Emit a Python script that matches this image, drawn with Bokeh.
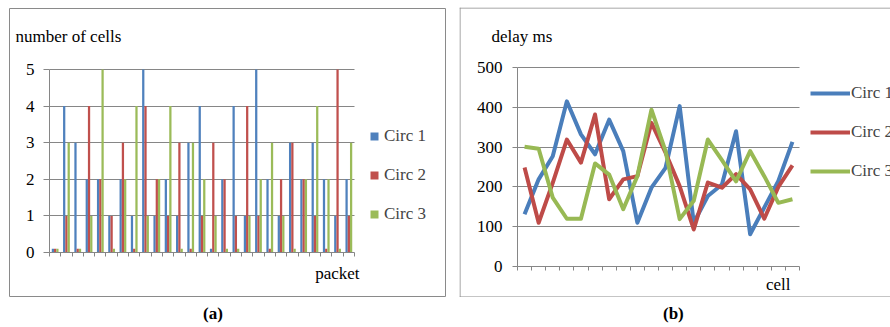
from bokeh.plotting import figure
from bokeh.models import (Range1d, FixedTicker, Legend, LegendItem, Div, Label,
                          ColumnDataSource, Spacer, Span)
from bokeh.layouts import row, column
from bokeh.transform import dodge
from bokeh.embed import file_html
from bokeh.resources import INLINE

# ---------------- data ----------------
packets = list(range(1, 28))
circ1_cells = [0.1, 4, 3, 2, 2, 1, 2, 1, 5, 1, 2, 1, 3, 4, 0.1, 2, 4, 1, 5, 2, 1, 3, 2, 3, 2, 1, 2]
circ2_cells = [0.1, 1, 0.1, 4, 2, 1, 3, 0.1, 4, 2, 1, 3, 0.1, 1, 3, 2, 1, 4, 1, 0.1, 2, 3, 2, 1, 0.1, 5, 1]
circ3_cells = [0.1, 3, 0.1, 1, 5, 0.1, 2, 4, 1, 2, 4, 0.1, 3, 2, 1, 0.1, 0.1, 1, 2, 3, 1, 0.1, 2, 4, 2, 0.1, 3]

cells = list(range(1, 21))
circ1_delay = [131, 219, 277, 415, 332, 282, 369, 290, 110, 198, 248, 403, 110, 177, 206, 340, 81, 148, 215, 313]
circ2_delay = [249, 110, 210, 319, 261, 382, 169, 219, 227, 361, 286, 202, 93, 211, 198, 232, 194, 120, 200, 254]
circ3_delay = [301, 296, 173, 120, 120, 259, 231, 144, 227, 394, 290, 119, 165, 319, 267, 214, 290, 227, 160, 169]

series_names = ["Circ 1", "Circ 2", "Circ 3"]
bar_colors = ["#4F81BD", "#C0504D", "#9BBB59"]
line_colors = ["#4A7EBB", "#BE4B48", "#98B954"]
cells_ticks = [0, 1, 2, 3, 4, 5]
delay_ticks = [0, 100, 200, 300, 400, 500]

FONT = "'Liberation Serif', serif"
GRAY = "#868686"
BOXC = "#8a8a8a"


class Mapper:
    """Pixel geometry of one chart (page pixels) -> data ranges."""
    def __init__(self, fx0, fx1, fy0, fy1, xa, pxa, xb, pxb, ya, pya, yb, pyb):
        self.sx = (pxb - pxa) / (xb - xa)
        self.sy = (pyb - pya) / (yb - ya)
        self.xa, self.pxa, self.ya, self.pya = xa, pxa, ya, pya
        self.fx0, self.fy1 = fx0, fy1
        self.x_range = Range1d(self.x(fx0), self.x(fx1))
        self.y_range = Range1d(self.y(fy1), self.y(fy0))

    def x(self, px):
        return self.xa + (px - self.pxa) / self.sx

    def y(self, py):
        return self.ya + (py - self.pya) / self.sy

    def loc(self, px, py):
        return (px - self.fx0, self.fy1 - py)


def make_fig(m, width, height, mb):
    p = figure(width=width, height=height, output_backend="svg", toolbar_location=None,
               title=None, x_range=m.x_range, y_range=m.y_range,
               min_border_left=mb, min_border_right=mb, min_border_top=mb,
               min_border_bottom=mb)
    p.background_fill_color = "white"
    p.border_fill_color = "white"
    return p


def style_axes(p, yticks, n_cat, tick_out_y, standoff_y):
    p.yaxis.fixed_location = 0.5
    p.xaxis.fixed_location = yticks[0]
    p.yaxis.bounds = (yticks[0], yticks[-1])
    p.xaxis.bounds = (0.5, n_cat + 0.5)
    p.yaxis.ticker = FixedTicker(ticks=yticks)
    p.yaxis.major_tick_out = tick_out_y
    p.yaxis.major_tick_in = 0
    p.yaxis.minor_tick_line_color = None
    p.yaxis.major_label_standoff = standoff_y
    p.yaxis.major_label_text_font = FONT
    p.yaxis.major_label_text_font_size = "17px"
    p.yaxis.major_label_text_color = "black"
    p.xaxis.ticker = FixedTicker(ticks=[b + 0.5 for b in range(0, n_cat + 1)])
    p.xaxis.major_tick_out = 4
    p.xaxis.major_tick_in = 0
    p.xaxis.minor_tick_line_color = None
    p.xaxis.major_label_text_color = None
    p.xaxis.major_label_text_font_size = "1px"
    for ax in (p.xaxis, p.yaxis):
        ax.axis_line_color = GRAY
        ax.major_tick_line_color = GRAY
    p.xgrid.grid_line_color = None
    p.ygrid.ticker = FixedTicker(ticks=yticks[1:])
    p.ygrid.grid_line_color = GRAY
    try:
        p.ygrid.cross_bounds = (0.5, n_cat + 0.5)
    except AttributeError:
        p.ygrid.grid_line_color = None
        p.segment(x0=0.5, x1=n_cat + 0.5, y0=yticks[1:], y1=yticks[1:],
                  line_color=GRAY, line_width=1)


def label(p, x, y, text, align):
    p.add_layout(Label(x=x, y=y, text=text, text_font=FONT, text_font_size="17px",
                       text_baseline="middle", text_align=align, text_color="black"))


# ---------------- chart (a) ----------------
# figure occupies page x 8..446, y 7..297 ; frame inset by 1px, outline = chart box
ma = Mapper(9, 445, 8, 296, 0.5, 49, 27.5, 354, 0, 252, 5, 69)
pa = make_fig(ma, 438, 290, 1)
pa.outline_line_color = BOXC
pa.outline_line_width = 1
style_axes(pa, cells_ticks, len(packets), 6, 9)

src_a = ColumnDataSource(dict(x=packets, c1=circ1_cells, c2=circ2_cells, c3=circ3_cells))
keys = []
for key, off, col in zip(["c1", "c2", "c3"], [-0.2, 0.0, 0.2], bar_colors):
    pa.vbar(x=dodge("x", off), top=key, width=0.2, source=src_a,
            fill_color=col, line_color=None)
    # square legend key: zero-size markers on the bar tops (invisible in the plot)
    keys.append(pa.scatter(x=dodge("x", off), y=key, source=src_a, size=0,
                           marker="square", fill_color=col, line_color=None))

leg_a = Legend(items=[LegendItem(label=n, renderers=[r]) for n, r in zip(series_names, keys)],
               location=ma.loc(364, 224), padding=0, margin=0, spacing=19,
               glyph_width=20, glyph_height=20, label_standoff=-2, label_height=20,
               border_line_color=None, background_fill_alpha=0,
               label_text_font=FONT, label_text_font_size="17px")
pa.add_layout(leg_a)

label(pa, ma.x(15), ma.y(36), "number of cells", "left")
label(pa, ma.x(359), ma.y(273), "packet", "right")

# ---------------- chart (b) ----------------
# figure occupies page x 459..890, y 7..297 ; box is cut by the window on the right
mb = Mapper(459, 890, 7, 297, 0.5, 517, 20.5, 799, 0, 266, 500, 67)
pb = make_fig(mb, 431, 290, 0)
pb.outline_line_color = None
style_axes(pb, delay_ticks, len(cells), 5, 10)

for loc, dim in [(mb.x(459.5), "height"), (mb.y(7.5), "width"), (mb.y(296.5), "width")]:
    pb.add_layout(Span(location=loc, dimension=dim, line_color=BOXC, line_width=1))

lines = []
for ys, col in zip([circ1_delay, circ2_delay, circ3_delay], line_colors):
    r = pb.line(cells, ys, line_color=col, line_width=4, line_join="round")
    lines.append(r)

leg_b = Legend(items=[LegendItem(label=n, renderers=[r]) for n, r in zip(series_names, lines)],
               location=mb.loc(810, 181), padding=0, margin=0, spacing=19,
               glyph_width=40, glyph_height=20, label_standoff=1, label_height=20,
               border_line_color=None, background_fill_alpha=0,
               label_text_font=FONT, label_text_font_size="17px")
pb.add_layout(leg_b)

label(pb, mb.x(491), mb.y(36), "delay ms", "left")
label(pb, mb.x(790), mb.y(284), "cell", "right")


# ---------------- captions ----------------
def caption(text, width, pad):
    html = ('<div style="font-family:\'Liberation Serif\';font-size:17px;font-weight:bold;'
            'color:black;line-height:17px;padding-top:8px;padding-left:%dpx">%s</div>' % (pad, text))
    return Div(text=html, width=width, height=24, margin=0)


da = caption("(a)", 438, 195)
db = caption("(b)", 431, 204)

charts = row(column(pa, da, spacing=0), column(pb, db, spacing=0), spacing=13)
layout = column(Spacer(height=7), row(Spacer(width=8), charts, spacing=0), spacing=0)

open("out.html", "w").write(file_html(layout, INLINE))
